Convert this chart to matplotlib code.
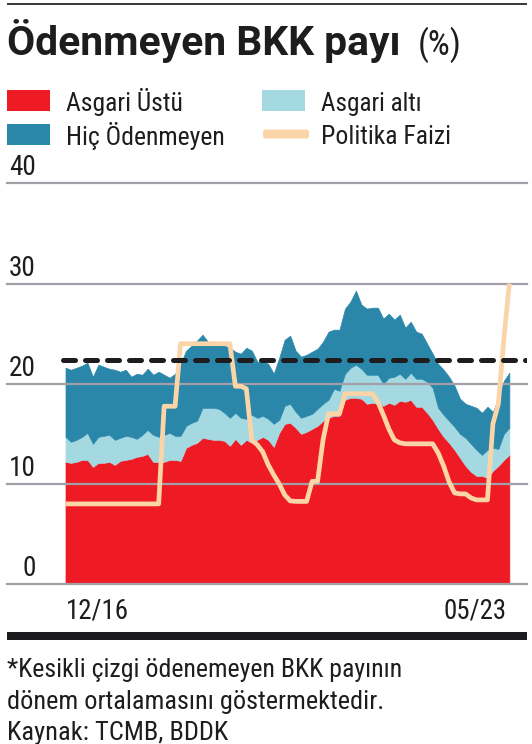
import numpy as np
import matplotlib
matplotlib.use("Agg")
import matplotlib.pyplot as plt
from matplotlib import font_manager as fm
from matplotlib.patches import Rectangle, FancyBboxPatch

# ---------------- data (monthly, 12/2016 - 09/2023) ----------------
asgari_ustu = [12.2, 12.1, 12.2, 12.4, 12.4, 11.7, 12.1, 12.1, 12.2, 11.9,
               12.3, 12.4, 12.5, 12.7, 12.8, 13.0, 12.2, 12.2, 12.2, 12.4,
               12.4, 12.3, 13.6, 13.9, 14.1, 14.6, 14.5, 14.4, 14.4, 14.3,
               13.8, 14.5, 13.9, 14.4, 14.1, 14.4, 14.7, 14.4, 13.7, 15.1,
               16.0, 16.1, 15.6, 15.0, 15.2, 15.5, 15.8, 16.3, 16.6, 16.8,
               16.8, 18.4, 18.6, 18.6, 18.5, 18.0, 18.1, 18.0, 17.8, 18.1,
               17.9, 18.3, 18.2, 18.4, 17.7, 17.7, 17.1, 16.4, 15.5, 14.7,
               14.1, 13.4, 12.6, 11.8, 11.2, 10.8, 10.8, 10.6, 11.3, 11.8,
               12.4, 12.9]
asgari_alti = [2.5, 2.1, 2.2, 2.3, 2.7, 2.3, 2.6, 2.7, 2.7, 2.5,
               2.3, 2.4, 2.2, 1.8, 2.1, 2.4, 2.7, 2.5, 2.7, 2.7,
               2.4, 2.5, 2.2, 2.2, 2.2, 3.0, 3.1, 3.2, 3.1, 2.8,
               2.8, 2.6, 2.7, 2.1, 2.8, 2.2, 2.1, 2.1, 2.3, 1.3,
               1.8, 1.9, 1.6, 1.6, 1.6, 1.5, 1.7, 1.7, 1.8, 2.7,
               2.5, 2.6, 3.0, 3.3, 3.0, 2.9, 2.8, 2.9, 2.2, 2.5,
               2.8, 2.7, 2.3, 2.7, 2.8, 2.8, 3.1, 3.2, 2.1, 2.2,
               2.2, 2.3, 2.4, 2.8, 2.8, 2.6, 2.1, 2.8, 2.3, 1.7,
               2.6, 2.7]
hic_odenmeyen = [6.9, 7.2, 7.2, 7.1, 7.0, 6.7, 7.2, 6.9, 6.6, 7.0,
                 6.6, 6.6, 6.0, 6.5, 6.0, 6.1, 6.0, 6.5, 6.0, 5.5,
                 6.2, 7.2, 7.5, 7.7, 8.0, 7.3, 6.6, 6.4, 6.4, 6.7,
                 7.0, 6.1, 6.4, 7.1, 6.4, 5.6, 5.4, 5.5, 5.0, 6.2,
                 6.6, 6.8, 6.1, 6.1, 6.1, 6.2, 6.0, 6.2, 6.8, 5.9,
                 6.1, 6.5, 6.6, 7.4, 6.4, 6.6, 6.7, 6.7, 6.5, 6.4,
                 5.7, 5.9, 5.1, 5.1, 4.7, 4.5, 3.8, 3.4, 4.4, 4.5,
                 4.4, 4.1, 3.5, 3.4, 3.8, 4.2, 4.2, 4.3, 3.6, 5.1,
                 5.3, 5.5]
politika_faizi = [8.0] * 18 + [17.75] * 3 + [24.0] * 10 + \
                 [19.75, 19.75, 19.5, 14.4, 13.9, 13.2, 11.9, 10.9, 10.0, 8.9,
                  8.3, 8.25, 8.25, 8.25, 10.25, 10.25, 14.4, 17.0, 17.0, 17.0,
                  19.0, 19.0, 19.0, 19.0, 19.0, 19.0, 18.2, 16.9, 15.5, 14.4,
                  14.1, 14.0, 14.0, 14.0, 14.0, 14.0, 14.0, 13.1, 11.8, 10.2,
                  9.1, 9.0, 9.0, 8.6, 8.4, 8.4, 8.4, 16.0, 18.0, 24.5,
                  30.0]
ortalama = 22.4                     # dashed line: period average
y_ticks = [0, 10, 20, 30, 40]
x_labels = ["12/16", "05/23"]

series_names = ["Asgari Üstü", "Asgari altı", "Hiç Ödenmeyen", "Politika Faizi"]
title = "Ödenmeyen BKK payı"
title_unit = "(%)"
notes = ["*Kesikli çizgi ödenemeyen BKK payının",
         "dönem ortalamasını göstermektedir.",
         "Kaynak: TCMB, BDDK"]

# ---------------- style ----------------
RED = "#ee1b24"
LBLUE = "#a5d9e2"
DBLUE = "#2a87aa"
PEACH = "#fbd5a8"
GRID = "#a39ea8"
INK = "#1e1c1e"

names = {f.name for f in fm.fontManager.ttflist}
FONT = next((n for n in ["Liberation Sans Narrow", "Roboto Condensed",
                         "Open Sans Condensed", "Noto Sans Condensed",
                         "Roboto"] if n in names), "DejaVu Sans")
TFONT = next((n for n in ["Roboto", "Open Sans", "Lato"] if n in names), "DejaVu Sans")
plt.rcParams["font.family"] = [FONT, "DejaVu Sans"]

W, H = 532, 744
fig = plt.figure(figsize=(W / 100, H / 100), dpi=100)
fig.patch.set_facecolor("white")
renderer = fig.canvas.get_renderer()


def fy(py):
    return 1 - py / H


def fit(t, width):
    bb = t.get_window_extent(renderer)
    t.set_fontsize(t.get_fontsize() * width / bb.width)
    return t


# ---------------- axes ----------------
ax = fig.add_axes([7 / W, fy(584), 520 / W, (584 - 183.5) / H])
x = np.arange(len(asgari_ustu))
ax.set_xlim(-10.675, 84.22)
ax.set_ylim(0, 40)
ax.axis("off")

polys = ax.stackplot(x, asgari_ustu, asgari_alti, hic_odenmeyen,
                     colors=[RED, LBLUE, DBLUE], zorder=1)
for p, c in zip(polys, [RED, LBLUE, DBLUE]):
    p.set_edgecolor(c)
    p.set_linewidth(0.5)

for v in y_ticks:
    ax.axhline(v, color=GRID, lw=1.6, zorder=2, clip_on=False)

ax.plot(x, politika_faizi, color=PEACH, lw=3.4, zorder=4,
        solid_joinstyle="round", solid_capstyle="butt")

ax.axhline(ortalama, xmin=(63 - 7) / 520, xmax=1, color=INK, lw=3.6,
           dashes=(2.4, 2.0), dash_capstyle="round", zorder=5)

ylab = []
for v in y_ticks:
    t = ax.annotate(str(v), xy=((36 - 7) / 520, v),
                    xycoords=("axes fraction", "data"),
                    xytext=(0, 8), textcoords="offset pixels",
                    ha="right", va="baseline", fontsize=16, color=INK)
    ylab.append(t)
fit(ylab[-1], 27)
for t in ylab:
    t.set_fontsize(ylab[-1].get_fontsize())

t1 = ax.annotate(x_labels[0], xy=(0, 0), xytext=(0, -35),
                 textcoords="offset pixels", ha="left", va="baseline",
                 fontsize=16, color=INK)
fit(t1, 63)
t2 = ax.annotate(x_labels[1], xy=(x[-1], 0), xytext=(-3, -35),
                 textcoords="offset pixels", ha="right", va="baseline",
                 fontsize=16, color=INK)
t2.set_fontsize(t1.get_fontsize())

# ---------------- header ----------------
fig.add_artist(Rectangle((7 / W, fy(4.5)), 520 / W, 2 / H,
                         transform=fig.transFigure, color="#3d3a40", lw=0))
tt = fig.text(7 / W, fy(55), title, ha="left", va="baseline",
              fontsize=26, weight="bold", color=INK,
              family=[TFONT, "DejaVu Sans"])
fit(tt, 393)
tu = fig.text(418 / W, fy(55), title_unit, ha="left", va="baseline",
              fontsize=20, color=INK)
fit(tu, 44)

# legend
leg = [(7, 89.5, RED, series_names[0], 66, 110.5, 117),
       (262, 89.5, LBLUE, series_names[1], 321, 110.5, 101),
       (7, 124, DBLUE, series_names[2], 66, 144.5, 160)]
lt = []
for (px, py, c, s, tx, ty, tw) in leg:
    fig.add_artist(Rectangle((px / W, fy(py + 21)), 43 / W, 21 / H,
                             transform=fig.transFigure, color=c, lw=0))
    t = fig.text(tx / W, fy(ty), s, ha="left", va="baseline",
                 fontsize=16, color=INK)
    fit(t, tw)
    lt.append(t)
fig.add_artist(FancyBboxPatch((263 / W, fy(138.5)), 46 / W, 9 / H,
                              boxstyle="round,pad=0,rounding_size=0.004",
                              transform=fig.transFigure, color=PEACH, lw=0))
t = fig.text(321 / W, fy(144.5), series_names[3], ha="left", va="baseline",
             fontsize=16, color=INK)
fit(t, 130)

# ---------------- footer ----------------
fig.add_artist(Rectangle((7 / W, fy(640)), 520 / W, 8 / H,
                         transform=fig.transFigure, color="#1c1b1d", lw=0))
for s, by, w in zip(notes, [677, 709, 740], [397, 379, 222]):
    t = fig.text(7 / W, fy(by), s, ha="left", va="baseline",
                 fontsize=16, color=INK)
    fit(t, w)

fig.savefig("out.png", dpi=100, facecolor="white")
